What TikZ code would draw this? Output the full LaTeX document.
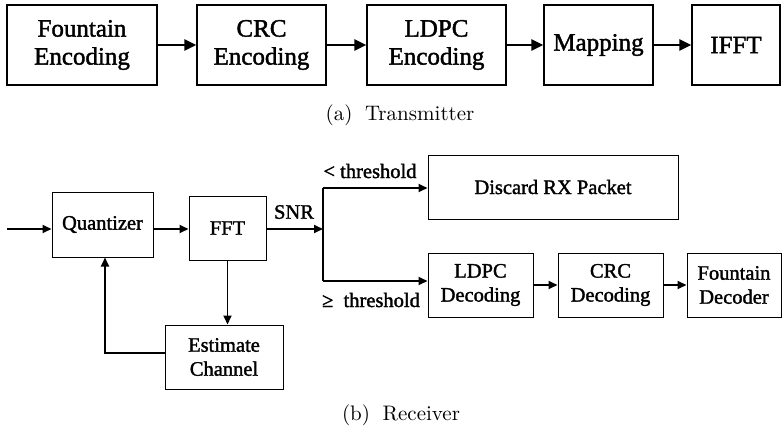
\documentclass[tikz,border=0pt]{standalone}
\usepackage{fontspec}
\setmainfont{Liberation Serif}[FakeBold=1.6]
\newfontfamily\capfont{lmroman10-regular}[Extension=.otf]
\usetikzlibrary{arrows.meta}

\begin{document}
\begin{tikzpicture}[x=1pt,y=-1pt,
  txbox/.style={draw, line width=1.3pt, minimum height=80pt, inner sep=0pt,
    align=center, font=\fontsize{25}{28}\selectfont},
  rxbox/.style={draw, line width=1pt, minimum height=64pt, inner sep=0pt,
    align=center, font=\fontsize{20.5}{24}\selectfont},
  txarrow/.style={line width=2.6pt, -{Triangle[length=12pt,width=11pt]}},
  rxarrow/.style={line width=1.8pt, -{Triangle[length=9pt,width=8pt]}},
  rxline/.style={line width=1.8pt},
  lbl/.style={inner sep=0pt, font=\fontsize{20.5}{24}\selectfont},
  capt/.style={inner sep=0pt, font=\capfont\fontsize{21}{24}\selectfont}]
\useasboundingbox (0,0) rectangle (782,429);

% ---- transmitter chain ----
\node[txbox, minimum width=150pt] (fe)    at (82,45)    {Fountain\\Encoding};
\node[txbox, minimum width=129pt] (crce)  at (261.5,45) {CRC\\Encoding};
\node[txbox, minimum width=139pt] (ldpce) at (436.5,45) {LDPC\\Encoding};
\node[txbox, minimum width=109pt] (map)   at (598.5,45) {Mapping};
\node[txbox, minimum width=88pt]  (ifft)  at (736,45)   {IFFT};
\draw[txarrow] (fe) -- (crce);
\draw[txarrow] (crce) -- (ldpce);
\draw[txarrow] (ldpce) -- (map);
\draw[txarrow] (map) -- (ifft);
\node[capt] (capa) at (400,115) {(a)\hspace{0.6em}Transmitter};

% ---- receiver chain ----
\coordinate (in) at (7,229);
\node[rxbox, minimum width=101pt, minimum height=65pt] (quant) at (102.5,224.5) {Quantizer};
\node[rxbox, minimum width=77pt]  (fft)   at (227.5,228) {FFT};
\coordinate (split) at (323,229);
\coordinate (up) at (323,188);
\coordinate (dn) at (323,281);
\node[rxbox, minimum width=250pt] (disc)  at (553,187)   {Discard RX Packet};
\node[rxbox, minimum width=105pt] (ldpcd) at (480.5,285) {LDPC\\Decoding};
\node[rxbox, minimum width=105pt] (crcd)  at (610.5,285) {CRC\\Decoding};
\node[rxbox, minimum width=94pt]  (fd)    at (734,285)   {Fountain\\Decoder};
\node[rxbox, minimum width=118pt] (est)   at (224,357)   {Estimate\\Channel};
\coordinate (fb) at (105,353);

\draw[rxarrow] (in) -- (in -| quant.west);
\draw[rxarrow] (quant.east |- in) -- (fft.west |- in);
\draw[rxarrow] (fft.east |- split) -- (split);
\draw[rxline] (up) -- (dn);
\draw[rxarrow] (up) -- (up -| disc.west);
\draw[rxarrow] (dn) -- (dn -| ldpcd.west);
\draw[rxarrow] (ldpcd) -- (crcd);
\draw[rxarrow] (crcd) -- (fd);
\draw[rxarrow] (fft.south) -- (fft.south |- est.north);
\draw[rxarrow] (est.west |- fb) -- (fb) -- (fb |- quant.south);

\node[lbl] (snr) at (294,212) {SNR};
\node[lbl] (lt)  at (370,171) {< threshold};
\node[lbl] (ge)  at (371,300) {≥\ \ threshold};
\node[capt] (capb) at (401,415) {(b)\hspace{0.6em}Receiver};
\end{tikzpicture}
\end{document}
